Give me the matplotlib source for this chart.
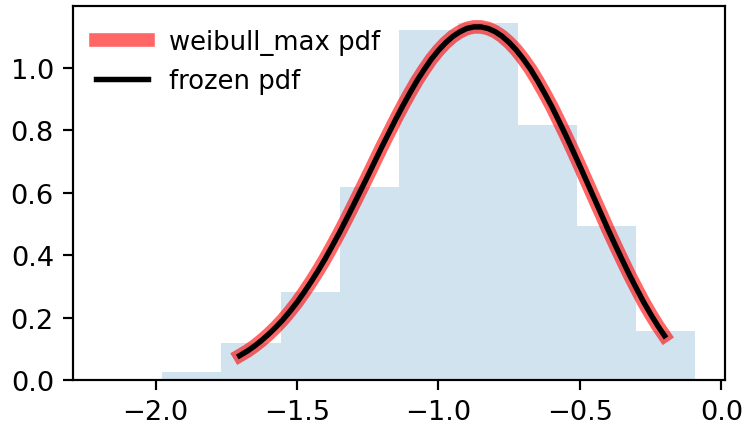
import numpy as np
import matplotlib
matplotlib.use("Agg")
import matplotlib.pyplot as plt
from matplotlib.ticker import MultipleLocator

# histogram of samples (density), 10 bins
bin_edges = [-2.187, -1.978, -1.768, -1.558, -1.349, -1.139,
             -0.930, -0.720, -0.511, -0.301, -0.092]
bin_heights = [0.004, 0.027, 0.119, 0.282, 0.617, 1.120,
               1.145, 0.818, 0.492, 0.158]

# pdf curve
pdf_x = [-1.703, -1.675, -1.65, -1.625, -1.60, -1.575, -1.55, -1.525,
         -1.50, -1.475, -1.45, -1.425, -1.40, -1.375, -1.35, -1.325,
         -1.30, -1.275, -1.25, -1.225, -1.20, -1.175, -1.15, -1.125,
         -1.10, -1.075, -1.05, -1.025, -1.00, -0.975, -0.95, -0.925,
         -0.90, -0.875, -0.85, -0.825, -0.80, -0.775, -0.75, -0.725,
         -0.70, -0.675, -0.65, -0.625, -0.60, -0.575, -0.55, -0.525,
         -0.50, -0.475, -0.45, -0.425, -0.40, -0.375, -0.35, -0.325,
         -0.30, -0.275, -0.25, -0.225, -0.201]
pdf_y = [0.078, 0.093, 0.109, 0.127, 0.147, 0.169, 0.193, 0.220,
         0.249, 0.281, 0.315, 0.351, 0.389, 0.430, 0.472, 0.516,
         0.561, 0.607, 0.653, 0.700, 0.747, 0.792, 0.837, 0.880,
         0.921, 0.960, 0.995, 1.028, 1.056, 1.080, 1.100, 1.115,
         1.126, 1.131, 1.131, 1.126, 1.116, 1.101, 1.081, 1.057,
         1.028, 0.996, 0.959, 0.919, 0.877, 0.831, 0.784, 0.735,
         0.685, 0.634, 0.583, 0.532, 0.481, 0.432, 0.384, 0.337,
         0.293, 0.250, 0.211, 0.174, 0.142]

dpi = 196
fig = plt.figure(figsize=(746 / dpi, 427 / dpi), dpi=dpi)
ax = fig.add_axes([0.0979, 0.1077, 0.8739, 0.8759])

ax.plot(pdf_x, pdf_y, 'r-', lw=5, alpha=0.6, label='weibull_max pdf')
ax.plot(pdf_x, pdf_y, 'k-', lw=2, label='frozen pdf')
ax.hist(bin_edges[:-1], bins=bin_edges, weights=bin_heights,
        histtype='stepfilled', alpha=0.2)

ax.set_ylim(0, 1.198)
ax.yaxis.set_major_locator(MultipleLocator(0.2))
ax.legend(loc='upper left', frameon=False, fontsize=9.5)
fig.savefig("out.png", dpi=dpi)
